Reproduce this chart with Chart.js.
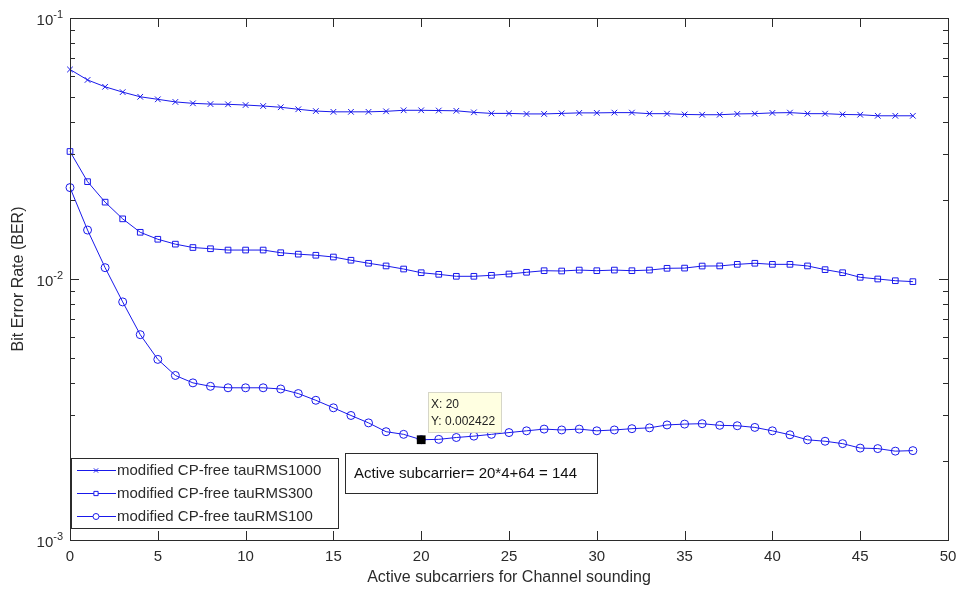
<!DOCTYPE html>
<html>
<head>
<meta charset="utf-8">
<title>BER vs active subcarriers</title>
<script src="https://cdn.jsdelivr.net/npm/chart.js@4/dist/chart.umd.min.js"></script>
<style>
  html, body { margin: 0; padding: 0; background: #ffffff; }
  #wrap { width: 964px; height: 593px; position: relative; }
  canvas { display: block; }
</style>
</head>
<body>
<div id="wrap"><canvas id="c" width="964" height="593"></canvas></div>
<script>
// Number of active subcarriers used for channel sounding (x axis)
const subcarriers = [
  0, 1, 2, 3, 4, 5, 6, 7, 8, 9, 10, 11, 12, 13, 14, 15, 16, 17, 18, 19, 20, 21, 22, 23, 24,
  25, 26, 27, 28, 29, 30, 31, 32, 33, 34, 35, 36, 37, 38, 39, 40, 41, 42, 43, 44, 45, 46, 47, 48
];

// BER, modified CP-free, tauRMS = 1000
const berTau1000 = [
  0.0635, 0.0579, 0.0545, 0.0520, 0.0499, 0.0488, 0.0477, 0.0471, 0.0468, 0.0467,
  0.0464, 0.0460, 0.0455, 0.0447, 0.0440, 0.0437, 0.0437, 0.0437, 0.0439, 0.0443,
  0.0443, 0.0442, 0.0441, 0.0435, 0.0431, 0.0431, 0.0429, 0.0429, 0.0431, 0.0433,
  0.0433, 0.0434, 0.0434, 0.0430, 0.0430, 0.0427, 0.0426, 0.0426, 0.0429, 0.0430,
  0.0433, 0.0434, 0.0430, 0.0430, 0.0427, 0.0426, 0.0422, 0.0422, 0.0422
];

// BER, modified CP-free, tauRMS = 300
const berTau300 = [
  0.0308, 0.0236, 0.0197, 0.0170, 0.0151, 0.0142, 0.0136, 0.0132, 0.01306, 0.01291,
  0.01291, 0.01291, 0.01261, 0.01245, 0.01233, 0.01214, 0.01180, 0.01149, 0.01122, 0.01092,
  0.01057, 0.01042, 0.01024, 0.01024, 0.01033, 0.01045, 0.01061, 0.01076, 0.01073, 0.01082,
  0.01076, 0.01082, 0.01076, 0.01082, 0.01099, 0.01101, 0.01121, 0.01122, 0.01138, 0.01149,
  0.01138, 0.01138, 0.01122, 0.01086, 0.01057, 0.01015, 0.01000, 0.00985, 0.00977
];

// BER, modified CP-free, tauRMS = 100
const berTau100 = [
  0.0224, 0.0154, 0.01105, 0.00817, 0.00612, 0.00492, 0.00427, 0.00400, 0.00388, 0.00383,
  0.00383, 0.00383, 0.00379, 0.00364, 0.00343, 0.00321, 0.00300, 0.00281, 0.00260, 0.00254,
  0.002422, 0.00243, 0.00247, 0.00250, 0.00254, 0.00258, 0.00262, 0.00266, 0.00264, 0.00266,
  0.00262, 0.00264, 0.00267, 0.00269, 0.00276, 0.00278, 0.00279, 0.00275, 0.00274, 0.00270,
  0.00262, 0.00253, 0.00242, 0.00239, 0.00234, 0.00225, 0.00224, 0.00219, 0.00220
];

const seriesLabels = [
  'modified CP-free tauRMS1000',
  'modified CP-free tauRMS300',
  'modified CP-free tauRMS100'
];

// Axis ticks
const xTicks = [0, 5, 10, 15, 20, 25, 30, 35, 40, 45, 50];
const yDecades = [-3, -2, -1];

// Highlighted data tip
const tipX = 20;
const tipY = 0.002422;
const noteText = 'Active subcarrier= 20*4+64 = 144';

const BLUE = 'rgb(25,25,235)';
const AXIS = '#2b2b2b';
const FONT = '"Liberation Sans", Arial, Helvetica, sans-serif';

function toPoints(ys) {
  return subcarriers.map((x, i) => ({ x: x, y: ys[i] }));
}

const styles = [
  { pointStyle: 'crossRot', pointRadius: 4.0 },
  { pointStyle: 'rect', pointRadius: 4.0 },
  { pointStyle: 'circle', pointRadius: 4.0 }
];

function lineDataset(label, ys, st) {
  return {
    label: label,
    data: toPoints(ys),
    borderColor: BLUE,
    backgroundColor: 'rgba(0,0,0,0)',
    borderWidth: 1,
    pointStyle: st.pointStyle,
    pointRadius: st.pointRadius,
    pointBorderColor: BLUE,
    pointBackgroundColor: 'rgba(0,0,0,0)',
    pointBorderWidth: 1,
    tension: 0,
    fill: false,
    clip: false
  };
}

// Axes frame, ticks, labels, legend and annotations
const decorations = {
  id: 'decorations',
  afterDraw(chart) {
    const ctx = chart.ctx;
    const xs = chart.scales.x;
    const ys = chart.scales.y;
    const a = chart.chartArea;
    ctx.save();

    // frame
    ctx.strokeStyle = AXIS;
    ctx.lineWidth = 1;
    ctx.strokeRect(Math.round(a.left) + 0.5, Math.round(a.top) + 0.5,
                   Math.round(a.right - a.left), Math.round(a.bottom - a.top));

    // x ticks (bottom + top, pointing inward)
    ctx.beginPath();
    xTicks.forEach(v => {
      const px = Math.round(xs.getPixelForValue(v)) + 0.5;
      ctx.moveTo(px, a.bottom); ctx.lineTo(px, a.bottom - 9);
      ctx.moveTo(px, a.top); ctx.lineTo(px, a.top + 9);
    });
    // y ticks: majors at decades, minors at 2..9
    yDecades.forEach(d => {
      const base = Math.pow(10, d);
      const py = Math.round(ys.getPixelForValue(base)) + 0.5;
      ctx.moveTo(a.left, py); ctx.lineTo(a.left + 9, py);
      ctx.moveTo(a.right, py); ctx.lineTo(a.right - 9, py);
      if (d < -1) {
        for (let m = 2; m <= 9; m++) {
          const q = Math.round(ys.getPixelForValue(base * m)) + 0.5;
          ctx.moveTo(a.left, q); ctx.lineTo(a.left + 5, q);
          ctx.moveTo(a.right, q); ctx.lineTo(a.right - 5, q);
        }
      }
    });
    ctx.stroke();

    // x tick labels
    ctx.fillStyle = AXIS;
    ctx.font = '15px ' + FONT;
    ctx.textAlign = 'center';
    ctx.textBaseline = 'middle';
    xTicks.forEach(v => {
      ctx.fillText(String(v), xs.getPixelForValue(v), a.bottom + 17);
    });

    // y tick labels as 10^n
    yDecades.forEach(d => {
      const py = ys.getPixelForValue(Math.pow(10, d));
      const sup = String(d);
      ctx.font = '11px ' + FONT;
      const supW = ctx.measureText(sup).width;
      ctx.textAlign = 'right';
      ctx.textBaseline = 'middle';
      ctx.fillText(sup, a.left - 7, py - 3);
      ctx.font = '15px ' + FONT;
      ctx.fillText('10', a.left - 7 - supW, py + 3);
    });

    // axis titles
    ctx.font = '16px ' + FONT;
    ctx.textAlign = 'center';
    ctx.textBaseline = 'middle';
    ctx.fillText('Active subcarriers for Channel sounding', (a.left + a.right) / 2, a.bottom + 38);
    ctx.save();
    ctx.translate(19, (a.top + a.bottom) / 2);
    ctx.rotate(-Math.PI / 2);
    ctx.fillText('Bit Error Rate (BER)', 0, 0);
    ctx.restore();

    // legend box (lower left, inside the axes)
    const lgLeft = a.left + 1, lgTop = 458, lgW = 267, lgH = 70;
    ctx.fillStyle = '#ffffff';
    ctx.fillRect(lgLeft, lgTop, lgW, lgH);
    ctx.strokeStyle = AXIS;
    ctx.strokeRect(lgLeft + 0.5, lgTop + 0.5, lgW, lgH);
    ctx.font = '15px ' + FONT;
    ctx.textAlign = 'left';
    ctx.textBaseline = 'middle';
    chart.data.datasets.slice(0, 3).forEach((ds, i) => {
      const cy = lgTop + 12 + i * 23;
      ctx.strokeStyle = BLUE;
      ctx.lineWidth = 1;
      ctx.beginPath();
      ctx.moveTo(lgLeft + 6, cy + 0.5);
      ctx.lineTo(lgLeft + 45, cy + 0.5);
      ctx.stroke();
      ctx.fillStyle = '#ffffff';
      Chart.helpers.drawPoint(ctx, {
        pointStyle: ds.pointStyle,
        radius: 3,
        rotation: 0,
        borderWidth: 1
      }, lgLeft + 25, cy + 0.5);
      ctx.fillStyle = AXIS;
      ctx.fillText(ds.label, lgLeft + 46, cy + 1);
    });

    // text annotation
    ctx.font = '15px ' + FONT;
    const nx = 345, ny = 453, nw = 252, nh = 40;
    ctx.fillStyle = '#ffffff';
    ctx.fillRect(nx, ny, nw, nh);
    ctx.strokeStyle = AXIS;
    ctx.lineWidth = 1;
    ctx.strokeRect(nx + 0.5, ny + 0.5, nw, nh);
    ctx.fillStyle = '#111111';
    ctx.textAlign = 'left';
    ctx.fillText(noteText, nx + 9, ny + nh / 2 + 1);

    // data tip next to the highlighted point
    const px = xs.getPixelForValue(tipX);
    const py = ys.getPixelForValue(tipY);
    const tx = Math.round(px) + 7, tyTop = Math.round(py) - 48, tw = 73, th = 40;
    ctx.fillStyle = '#ffffe1';
    ctx.fillRect(tx, tyTop, tw, th);
    ctx.strokeStyle = '#d6d6c8';
    ctx.strokeRect(tx + 0.5, tyTop + 0.5, tw, th);
    ctx.fillStyle = '#222222';
    ctx.font = '12px ' + FONT;
    ctx.fillText('X: ' + tipX, tx + 3, tyTop + 13);
    ctx.fillText('Y: ' + tipY, tx + 3, tyTop + 30);

    ctx.restore();
  }
};

new Chart(document.getElementById('c'), {
  type: 'line',
  data: {
    datasets: [
      lineDataset(seriesLabels[0], berTau1000, styles[0]),
      lineDataset(seriesLabels[1], berTau300, styles[1]),
      lineDataset(seriesLabels[2], berTau100, styles[2]),
      {
        label: 'tip',
        data: [{ x: tipX, y: tipY }],
        showLine: false,
        order: -1,
        pointStyle: 'rect',
        pointRadius: 6.2,
        pointBackgroundColor: '#000000',
        pointBorderColor: '#000000',
        pointBorderWidth: 0,
        clip: false
      }
    ]
  },
  options: {
    responsive: false,
    animation: false,
    events: [],
    layout: { padding: { left: 70, right: 16, top: 18, bottom: 53 } },
    plugins: { legend: { display: false }, tooltip: { enabled: false } },
    scales: {
      x: { type: 'linear', min: 0, max: 50, display: false },
      y: { type: 'logarithmic', min: 0.001, max: 0.1, display: false }
    }
  },
  plugins: [decorations]
});
</script>
</body>
</html>
